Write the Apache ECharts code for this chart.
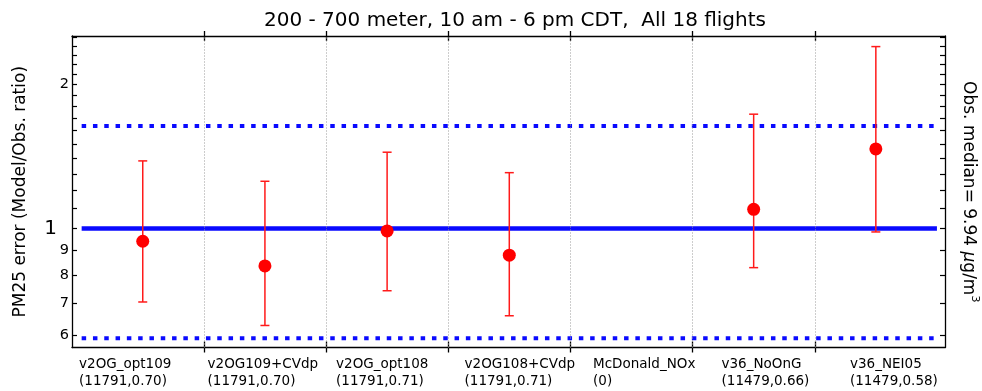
<!DOCTYPE html>
<html>
<head>
<meta charset="utf-8">
<script src="https://cdn.jsdelivr.net/npm/echarts@6/dist/echarts.min.js"></script>
<style>
  html, body { margin: 0; padding: 0; background: #fff; }
  #chart { width: 982px; height: 391px; }
</style>
</head>
<body>
<div id="chart"></div>
<script>
// Model runs and their (N, r) annotations
const categories = ['v2OG_opt109', 'v2OG109+CVdp', 'v2OG_opt108', 'v2OG108+CVdp', 'McDonald_NOx', 'v36_NoOnG', 'v36_NEI05'];
const categoryStats = ['(11791,0.70)', '(11791,0.70)', '(11791,0.71)', '(11791,0.71)', '(0)', '(11479,0.66)', '(11479,0.58)'];

// Model/Obs. ratio: median with lower/upper range (null = no data)
const medianRatio = [0.941, 0.836, 0.989, 0.880, null, 1.097, 1.466];
const lowerRatio  = [0.703, 0.628, 0.742, 0.658, null, 0.829, 0.984];
const upperRatio  = [1.384, 1.255, 1.443, 1.308, null, 1.732, 2.396];

// Reference lines: perfect agreement and the factor band
const perfectRatio = 1;
const factorBand = [0.591, 1.637];

// Log-axis ticks and labels
const yTickValues  = [0.6, 0.7, 0.8, 0.9, 1.0, 1.1, 1.2, 1.3, 1.4, 1.5, 1.6, 1.7, 1.8, 1.9, 2.0, 2.1, 2.2, 2.3, 2.4, 2.5];
const yLabelValues = [0.6, 0.7, 0.8, 0.9, 1, 2];
const yLabelText   = ['6', '7', '8', '9', '1', '2'];

const FONT = '"DejaVu Sans", "Lucida Grande", Verdana, sans-serif';
const Y_MIN = 0.565, Y_MAX = 2.521;
const X_MIN = -0.579, X_MAX = 6.566;
const boundaries = categories.slice(1).map((_, i) => i + 0.5);
const LABEL_START = -0.521, LABEL_STEP = 1.0516;
const labelAnchors = categories.map((_, i) => LABEL_START + i * LABEL_STEP);

const chart = echarts.init(document.getElementById('chart'), null, { renderer: 'canvas' });

const errorData = [];
const pointData = [];
categories.forEach((c, i) => {
  if (medianRatio[i] != null) {
    errorData.push([i, lowerRatio[i], upperRatio[i]]);
    pointData.push([i, medianRatio[i]]);
  }
});
const span = [-0.5, categories.length - 0.5];

const baseX = {
  type: 'value', min: X_MIN, max: X_MAX,
  splitLine: { show: false },
  axisLabel: { show: false },
  axisLine: { show: false, onZero: false }
};

const option = {
  animation: false,
  backgroundColor: '#fff',
  title: {
    text: '200 - 700 meter, 10 am - 6 pm CDT,  All 18 flights',
    left: 259, top: 6,
    textStyle: { fontFamily: FONT, fontSize: 20, fontWeight: 'normal', color: '#000' }
  },
  grid: { left: 72, right: 37, top: 36, bottom: 43.5, containLabel: false, outerBoundsMode: 'none' },
  xAxis: [
    Object.assign({}, baseX, {
      position: 'bottom',
      axisLine: { show: true, onZero: false, lineStyle: { color: '#000', width: 1.3 } },
      axisTick: { show: true, inside: true, length: 6, customValues: boundaries, lineStyle: { color: '#000', width: 1.3 } }
    }),
    Object.assign({}, baseX, {
      position: 'bottom',
      axisTick: { show: true, inside: false, length: 5, customValues: boundaries, lineStyle: { color: '#000', width: 1.3 } },
      axisLabel: {
        show: true, customValues: labelAnchors, align: 'left', margin: 8,
        fontFamily: FONT, fontSize: 13.5, lineHeight: 17.5, color: '#000',
        formatter: v => {
          const i = Math.round((v - LABEL_START) / LABEL_STEP);
          return categories[i] + '\n' + categoryStats[i];
        }
      }
    }),
    Object.assign({}, baseX, {
      position: 'top',
      axisLine: { show: true, onZero: false, lineStyle: { color: '#000', width: 1.3 } },
      axisTick: { show: true, inside: true, length: 5, customValues: boundaries, lineStyle: { color: '#000', width: 1.3 } }
    }),
    Object.assign({}, baseX, {
      position: 'top',
      axisTick: { show: true, inside: false, length: 5, customValues: boundaries, lineStyle: { color: '#000', width: 1.3 } }
    })
  ],
  yAxis: [
    {
      type: 'log', min: Y_MIN, max: Y_MAX, position: 'left',
      splitLine: { show: false },
      axisLine: { show: true, onZero: false, lineStyle: { color: '#000', width: 1.3 } },
      axisTick: { show: true, inside: true, length: 5, customValues: yTickValues, lineStyle: { color: '#000', width: 1.2 } },
      axisLabel: {
        show: true, customValues: yLabelValues, margin: 3,
        fontFamily: FONT, fontSize: 14.5, color: '#000',
        formatter: v => {
          const i = yLabelValues.findIndex(t => Math.abs(t - v) < 1e-6);
          const t = yLabelText[i];
          return v === 1 ? '{big|' + t + '}' : t;
        },
        rich: { big: { fontFamily: FONT, fontSize: 20, color: '#000', padding: [0, 12, 0, 0] } }
      },
      name: 'PM25 error (Model/Obs. ratio)',
      nameLocation: 'middle', nameRotate: 90, nameGap: 43,
      nameTextStyle: { fontFamily: FONT, fontSize: 17, color: '#000' }
    },
    {
      type: 'log', min: Y_MIN, max: Y_MAX, position: 'right',
      splitLine: { show: false },
      axisLine: { show: true, onZero: false, lineStyle: { color: '#000', width: 1.3 } },
      axisTick: { show: true, inside: true, length: 5, customValues: yTickValues, lineStyle: { color: '#000', width: 1.2 } },
      axisLabel: { show: false },
      name: 'Obs. median= 9.94 {i|μ}g/m{sup|3}',
      nameLocation: 'middle', nameRotate: -90, nameGap: 12,
      nameTextStyle: {
        fontFamily: FONT, fontSize: 17, color: '#000',
        rich: {
          i: { fontFamily: FONT, fontSize: 17, fontStyle: 'italic', color: '#000' },
          sup: { fontFamily: FONT, fontSize: 11, color: '#000', padding: [0, 0, 12, 0] }
        }
      }
    }
  ],
  series: [
    {
      // category separators
      type: 'line', data: [], xAxisIndex: 0, yAxisIndex: 0, silent: true,
      markLine: {
        silent: true, symbol: 'none', label: { show: false },
        lineStyle: { color: '#9a9a9a', width: 1, type: [1, 2] },
        data: boundaries.map(b => ({ xAxis: b }))
      }
    },
    {
      type: 'line', xAxisIndex: 0, yAxisIndex: 0, silent: true, symbol: 'none',
      lineStyle: { color: '#0a0aff', width: 4.5 },
      data: span.map(x => [x, perfectRatio]), z: 3
    },
    ...factorBand.map(v => ({
      type: 'line', xAxisIndex: 0, yAxisIndex: 0, silent: true, symbol: 'none',
      lineStyle: { color: '#0a0aff', width: 4, type: [4.5, 6.8], cap: 'butt' },
      data: span.map(x => [x, v]), z: 3
    })),
    {
      type: 'custom', xAxisIndex: 0, yAxisIndex: 0, silent: true, z: 5,
      encode: { x: 0, y: [1, 2] },
      data: errorData,
      renderItem: (params, api) => {
        const x = api.value(0);
        const pLo = api.coord([x, api.value(1)]);
        const pHi = api.coord([x, api.value(2)]);
        const w = 4.5;
        const style = { stroke: '#ff1a1a', lineWidth: 1.5 };
        return {
          type: 'group',
          children: [
            { type: 'line', shape: { x1: pHi[0], y1: pHi[1], x2: pLo[0], y2: pLo[1] }, style },
            { type: 'line', shape: { x1: pHi[0] - w, y1: pHi[1], x2: pHi[0] + w, y2: pHi[1] }, style },
            { type: 'line', shape: { x1: pLo[0] - w, y1: pLo[1], x2: pLo[0] + w, y2: pLo[1] }, style }
          ]
        };
      }
    },
    {
      type: 'scatter', xAxisIndex: 0, yAxisIndex: 0, silent: true, z: 6,
      symbol: 'circle', symbolSize: 13,
      itemStyle: { color: '#ff0000', opacity: 1 },
      data: pointData
    }
  ]
};

chart.setOption(option);
</script>
</body>
</html>
